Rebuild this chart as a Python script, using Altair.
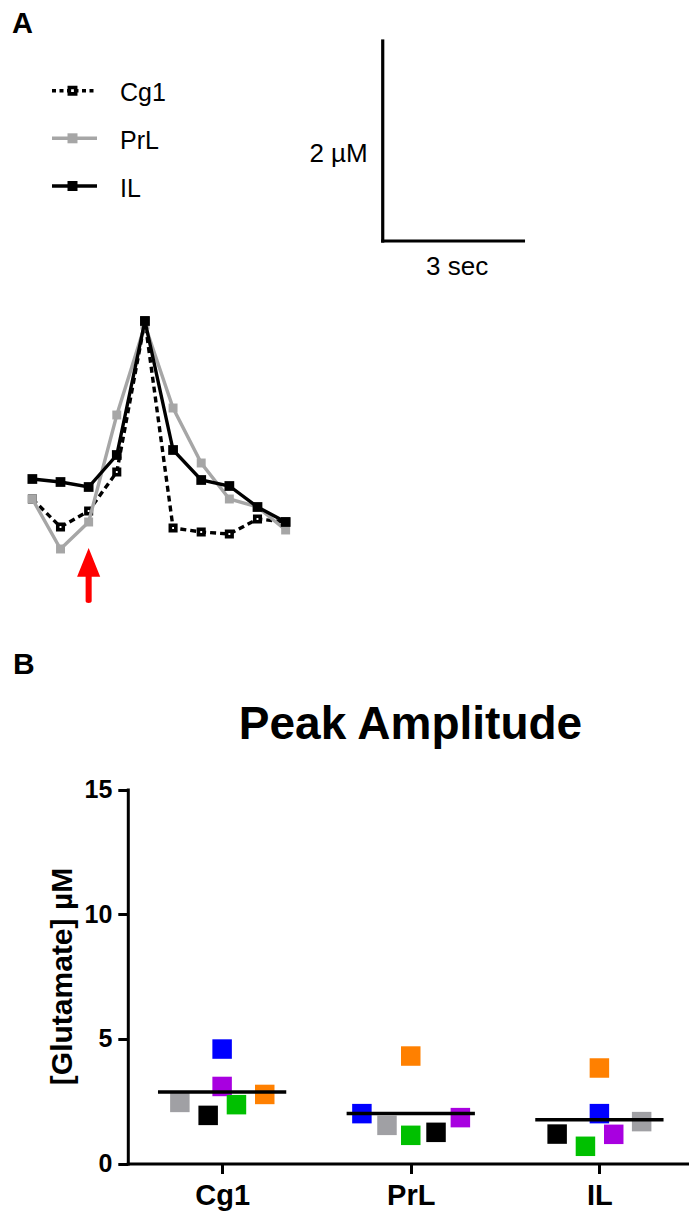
import altair as alt
import pandas as pd

FONT = "Liberation Sans"

# ---- Panel A: glutamate traces (µM) for each region, sampled every 0.6 s ----
TIME_S = [0.0, 0.6, 1.2, 1.8, 2.4, 3.0, 3.6, 4.2, 4.8, 5.4]
TRACE_CG1 = [-0.19, -0.47, -0.31, 0.08, 1.59, -0.48, -0.52, -0.54, -0.39, -0.42]
TRACE_PRL = [-0.19, -0.69, -0.42, 0.65, 1.55, 0.72, 0.17, -0.19, -0.27, -0.50]
TRACE_IL = [0.01, -0.02, -0.07, 0.25, 1.59, 0.30, 0.00, -0.06, -0.27, -0.42]
STIM_TIME = 1.2          # stimulus onset (red arrow)
BAR_T0, BAR_Y0 = 7.47, 2.39   # corner of the scale bar (s, µM)
BAR_SEC, BAR_UM = 3, 2        # scale bar lengths

# ---- Panel B: peak amplitude per subject and region ----
REGIONS = ["Cg1", "PrL", "IL"]
SUBJECTS = ["S1", "S2", "S3", "S4", "S5", "S6"]
SUBJECT_COLORS = ["#a0a0a4", "#000000", "#0000ff", "#a800e0", "#00c000", "#ff8000"]
PEAK_CG1 = [2.45, 1.93, 4.59, 3.09, 2.36, 2.77]
PEAK_PRL = [1.53, 1.25, 2.00, 1.84, 1.13, 4.31]
PEAK_IL = [1.68, 1.18, 2.00, 1.17, 0.69, 3.83]
# horizontal scatter spread of each subject inside its column
SPREAD_CG1 = [-0.224, -0.074, 0.0, 0.0, 0.076, 0.226]
SPREAD_PRL = [-0.126, 0.134, -0.259, 0.263, 0.0, 0.0]
SPREAD_IL = [0.224, -0.224, 0.0, 0.076, -0.074, 0.0]

W, H = 689, 1215
one = pd.DataFrame({"k": [0]})

# ------------------------------------------------------------------ panel A
xa = alt.Scale(domain=[-0.69, 14.0], range=[0, W], nice=False, zero=False)
ya = alt.Scale(domain=[-1.4, 4.8], range=[620, 0], nice=False, zero=False)

traces = pd.DataFrame({
    "t": TIME_S * 3,
    "v": TRACE_CG1 + TRACE_PRL + TRACE_IL,
    "region": ["Cg1"] * len(TIME_S) + ["PrL"] * len(TIME_S) + ["IL"] * len(TIME_S),
})

STYLES = {
    "Cg1": dict(color="#000000", dash=[6, 4], legend_dash=[4, 3.5],
                marker=dict(fill="#ffffff", stroke="#000000", strokeWidth=3.6, size=30)),
    "PrL": dict(color="#a6a6a6", dash=None, legend_dash=None,
                marker=dict(fill="#a6a6a6", strokeWidth=0, size=80)),
    "IL": dict(color="#000000", dash=None, legend_dash=None,
               marker=dict(fill="#000000", strokeWidth=0, size=95)),
}


def trace_layers(name):
    st = STYLES[name]
    base = alt.Chart(traces).transform_filter(alt.datum.region == name).encode(
        x=alt.X("t:Q", scale=xa, axis=None),
        y=alt.Y("v:Q", scale=ya, axis=None),
    )
    line_kw = dict(color=st["color"], strokeWidth=3.4)
    if st["dash"]:
        line_kw["strokeDash"] = st["dash"]
    line = base.mark_line(**line_kw)
    pts = base.mark_point(shape="square", filled=True, opacity=1, **st["marker"])
    return [line, pts]


bar = pd.DataFrame({
    "t0": [BAR_T0], "t1": [BAR_T0 + BAR_SEC],
    "y0": [BAR_Y0], "y1": [BAR_Y0 + BAR_UM],
    "tm": [BAR_T0 + BAR_SEC / 2], "ym": [BAR_Y0 + BAR_UM / 2],
})
vbar = alt.Chart(bar).mark_rule(color="black", strokeWidth=3.2, strokeCap="square").encode(
    x=alt.X("t0:Q", scale=xa, axis=None),
    y=alt.Y("y0:Q", scale=ya, axis=None), y2="y1:Q")
hbar = alt.Chart(bar).mark_rule(color="black", strokeWidth=3.2, strokeCap="square").encode(
    x=alt.X("t0:Q", scale=xa, axis=None), x2="t1:Q",
    y=alt.Y("y0:Q", scale=ya, axis=None))
um_label = alt.Chart(bar).mark_text(
    text=f"{BAR_UM} µM", font=FONT, fontSize=26, align="right", baseline="alphabetic",
    dx=-15, dy=21, color="black").encode(
    x=alt.X("t0:Q", scale=xa, axis=None), y=alt.Y("ym:Q", scale=ya, axis=None))
sec_label = alt.Chart(bar).mark_text(
    text=f"{BAR_SEC} sec", font=FONT, fontSize=26, align="center", baseline="alphabetic",
    dx=4, dy=34, color="black").encode(
    x=alt.X("tm:Q", scale=xa, axis=None), y=alt.Y("y0:Q", scale=ya, axis=None))

ARROW = ("M0,-1L0.42,0.045L0.11,0.045L0.11,0.93Q0.11,1 0,1Q-0.11,1 -0.11,0.93"
         "L-0.11,0.045L-0.42,0.045Z")
arrow = alt.Chart(pd.DataFrame({"t": [STIM_TIME]})).mark_point(
    shape=ARROW, size=3025, filled=True, fill="#ff0000", strokeWidth=0, opacity=1).encode(
    x=alt.X("t:Q", scale=xa, axis=None), y=alt.value(575.5))

panel_a = alt.layer(
    *trace_layers("Cg1"), *trace_layers("PrL"), *trace_layers("IL"),
    vbar, hbar, um_label, sec_label, arrow,
)

# ------------------------------------------------------------------ panel B
rows = []
for i, (region, vals, spread) in enumerate(zip(
        REGIONS, [PEAK_CG1, PEAK_PRL, PEAK_IL], [SPREAD_CG1, SPREAD_PRL, SPREAD_IL]), start=1):
    for subj, v, s in zip(SUBJECTS, vals, spread):
        rows.append({"region": region, "idx": i, "subject": subj, "value": v, "xpos": i + s})
peaks = pd.DataFrame(rows)

AX_LEFT, AX_BOTTOM, AX_TOP = 127.8, 1163.5, 789.5
xb = alt.Scale(domain=[0.5, 3.475], range=[AX_LEFT, W], nice=False, zero=False)
yb = alt.Scale(domain=[0, 15], range=[AX_BOTTOM, AX_TOP], nice=False, zero=False)

label_expr = "[" + ",".join(f"'{r}'" for r in [""] + REGIONS) + "][datum.value]"
x_axis = alt.Axis(
    orient="bottom", offset=AX_BOTTOM - H, values=[1, 2, 3], labelExpr=label_expr,
    title=None, grid=False, domainWidth=3, domainColor="black", domainCap="square",
    tickWidth=3, tickSize=10, tickColor="black", labelFont=FONT, labelFontSize=29,
    labelFontWeight="bold", labelColor="black", labelPadding=7.5,
    labelFlush=False, labelOverlap=False)
y_axis = alt.Axis(
    orient="left", offset=-AX_LEFT, values=[0, 5, 10, 15], title=None, grid=False,
    domainWidth=3, domainColor="black", domainCap="square", tickWidth=3, tickSize=10,
    tickColor="black", labelFont=FONT, labelFontSize=25, labelFontWeight="bold",
    labelColor="black", labelPadding=6, labelFlush=False, labelOverlap=False)

points = alt.Chart(peaks).mark_square(size=380, opacity=1).encode(
    x=alt.X("xpos:Q", scale=xb, axis=x_axis),
    y=alt.Y("value:Q", scale=yb, axis=y_axis),
    color=alt.Color("subject:N", scale=alt.Scale(domain=SUBJECTS, range=SUBJECT_COLORS),
                    legend=None),
)
means = alt.Chart(peaks).transform_aggregate(
    mean="mean(value)", groupby=["idx"]
).transform_calculate(
    lo="datum.idx - 0.34", hi="datum.idx + 0.34"
).mark_rule(color="black", strokeWidth=3.5).encode(
    x=alt.X("lo:Q", scale=xb, axis=x_axis), x2="hi:Q",
    y=alt.Y("mean:Q", scale=yb, axis=y_axis),
)
panel_b = alt.layer(points, means)

# ------------------------------------------------------------ text & legend
def text(s, x, y, size, bold=False, align="left", angle=0):
    kw = dict(text=s, font=FONT, fontSize=size, align=align, baseline="alphabetic",
              color="black", fontWeight="bold" if bold else "normal")
    if angle:
        kw["angle"] = angle
    return alt.Chart(one).mark_text(**kw).encode(x=alt.value(x), y=alt.value(y))


notes = [
    text("A", 12, 33, 29, bold=True),
    text("B", 13, 674, 30, bold=True),
    text("Peak Amplitude", 410.5, 739, 46, bold=True, align="center"),
    text("[Glutamate] µM", 72, 976.5, 30, bold=True, align="center", angle=270),
]
for name, row in zip(["Cg1", "PrL", "IL"], [90.7, 138.3, 186.0]):
    st = STYLES[name]
    rule_kw = dict(color=st["color"], strokeWidth=3.4)
    if st["legend_dash"]:
        rule_kw["strokeDash"] = st["legend_dash"]
    notes.append(alt.Chart(one).mark_rule(**rule_kw).encode(
        x=alt.value(52), x2=alt.value(97), y=alt.value(row)))
    marker = dict(st["marker"])
    marker["size"] = 40 if name == "Cg1" else 100
    notes.append(alt.Chart(one).mark_point(shape="square", filled=True, opacity=1, **marker)
                 .encode(x=alt.value(72.5), y=alt.value(row)))
    notes.append(text(name, 120, row + 10.5, 25))

annotations = alt.layer(*notes)

chart = alt.layer(panel_a, panel_b, annotations).resolve_scale(
    x="independent", y="independent"
).properties(
    width=W, height=H, padding=0,
    autosize=alt.AutoSizeParams(type="none"),
    background="white",
).configure_view(stroke=None)

chart.save("out.html", embed_options={"renderer": "svg", "actions": False})
